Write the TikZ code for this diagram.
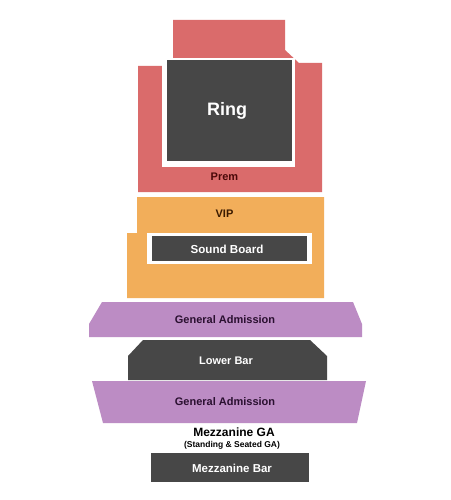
\documentclass[tikz,border=0pt]{standalone}
\usepackage{fontspec}
\setmainfont{Liberation Sans}
\usetikzlibrary{positioning}
\definecolor{prem}{HTML}{DA6B6B}
\definecolor{vip}{HTML}{F2AE5A}
\definecolor{ga}{HTML}{BC8CC4}
\definecolor{blockgray}{HTML}{474747}
\definecolor{premtext}{HTML}{4A0808}
\definecolor{viptext}{HTML}{3A1A00}
\definecolor{gatext}{HTML}{2A1030}

\begin{document}
\begin{tikzpicture}[x=1pt,y=-1pt,
      block/.style={fill=blockgray,inner sep=0pt,text=white,font=\bfseries\fontsize{11.5}{13}\selectfont},
      gap/.style={fill=white},
      tag/.style={inner sep=0pt,font=\bfseries\fontsize{11}{13}\selectfont}
    ]
      \fill[white] (0,0) rectangle (450,500);
      \useasboundingbox (0,0) rectangle (450,500);
      % floor areas
      \fill[prem] (138,192) -- (322,192) -- (322,63) -- (299,63) -- (285,50) -- (285,20) -- (173,20) -- (173,66) -- (138,66) -- cycle;
      \fill[gap] (162,58) rectangle (295,167);
      \fill[vip] (137,197) -- (324,197) -- (324,298) -- (127,298) -- (127,233) -- (137,233) -- cycle;
      \fill[gap] (147,233) rectangle (312,264);
      \fill[ga] (102,302) -- (353,302) -- (362,324) -- (362,337) -- (89,337) -- (89,324) -- cycle;
      \fill[blockgray] (128,380) -- (128,356) -- (143,340) -- (310,340) -- (327,356) -- (327,380) -- cycle;
      \fill[ga] (92,381) -- (366,381) -- (357,423) -- (103,423) -- cycle;
      % blocks
      \node[block,minimum width=125pt,minimum height=101pt] (ring) at (229.5,110.5) {};
      \node[text=white,inner sep=0pt,font=\bfseries\fontsize{18}{20}\selectfont] (ringtxt) at (227,111) {Ring};
      \node[block,minimum width=155pt,minimum height=25pt] (sound) at (229.5,248.5) {};
      \node[text=white,tag,font=\bfseries\fontsize{11.6}{13}\selectfont] (soundtxt) at (227,249) {Sound Board};
      \node[block,minimum width=158pt,minimum height=29pt] (mbar) at (230,467.5) {};
      \node[text=white,tag,font=\bfseries\fontsize{11.5}{13}\selectfont] (mbartxt) at (232,468) {Mezzanine Bar};
      % labels
      \node[tag,text=premtext] (premtxt) at (224.5,177) {Prem};
      \node[tag,text=viptext] (viptxt) at (224.5,214) {VIP};
      \node[tag,text=gatext] (ga1) at (225,320) {General Admission};
      \node[tag,text=white] (lowbar) at (226,361) {Lower Bar};
      \node[tag,text=gatext] (ga2) at (225,402) {General Admission};
      \node[tag,text=black,font=\bfseries\fontsize{12}{14}\selectfont] (mezz) at (234,432) {Mezzanine GA};
      \node[tag,text=black,font=\bfseries\fontsize{8.5}{10}\selectfont] (mezzsub) at (232,445) {(Standing \& Seated GA)};
    \end{tikzpicture}
\end{document}
